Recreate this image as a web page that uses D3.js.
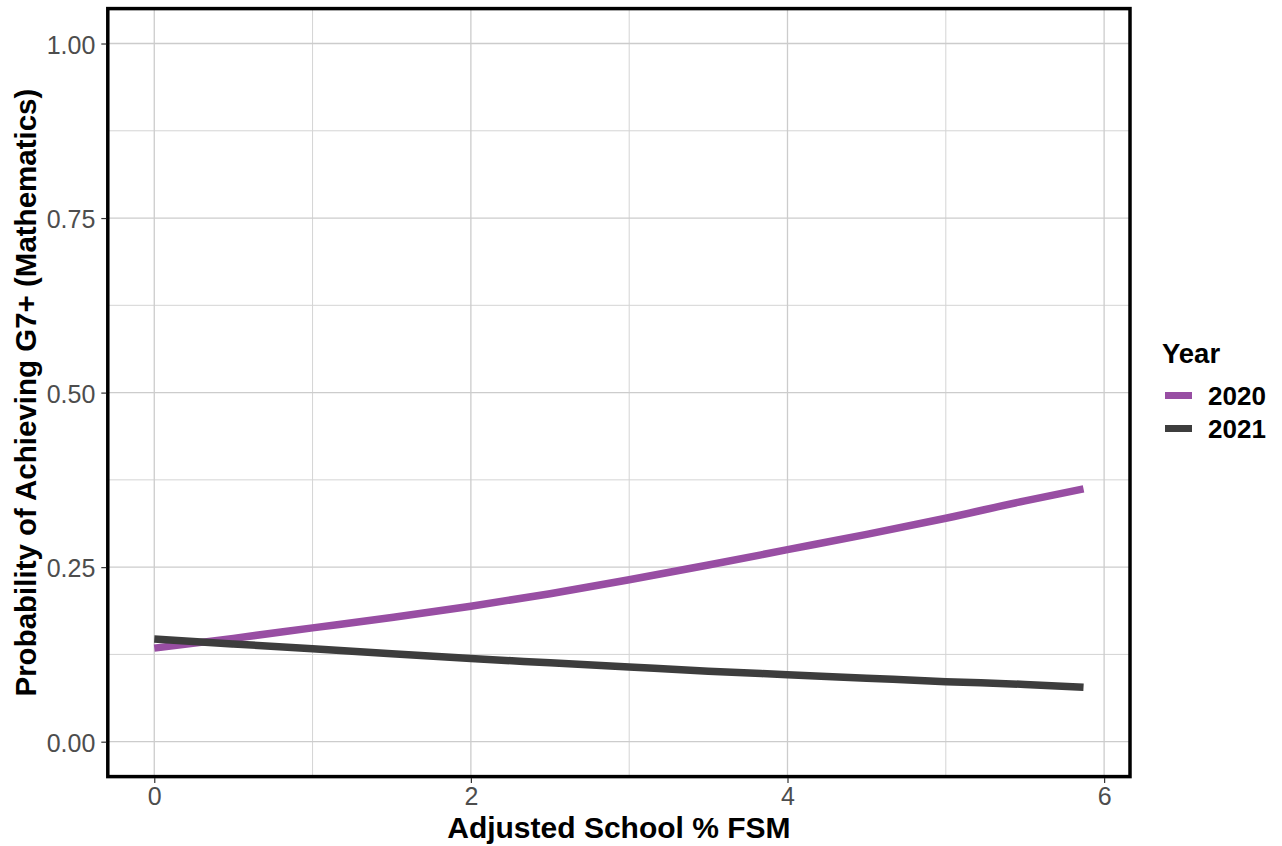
<!DOCTYPE html>
<html><head><meta charset="utf-8">
<script src="https://cdn.jsdelivr.net/npm/d3@7"></script>
<style>body{margin:0;background:#fff}svg{display:block}text{font-family:"Liberation Sans",Arial,sans-serif}</style>
</head><body>
<svg id="c" width="1282" height="846"></svg>
<script>
const fsm = [0, 0.5, 1, 1.5, 2, 2.5, 3, 3.5, 4, 4.5, 5, 5.5, 5.87];
const prob2020 = [0.134, 0.148, 0.163, 0.178, 0.194, 0.212, 0.232, 0.253, 0.275, 0.297, 0.320, 0.345, 0.362];
const prob2021 = [0.147, 0.140, 0.133, 0.126, 0.119, 0.113, 0.107, 0.101, 0.096, 0.091, 0.086, 0.082, 0.078];
const years = ["2020", "2021"];
const colors = ["#984EA3", "#3d3d3d"];
const xTicks = [0, 2, 4, 6];
const xMinor = [1, 3, 5];
const yTicks = [0, 0.25, 0.5, 0.75, 1];
const yMinor = [0.125, 0.375, 0.625, 0.875];

const svg = d3.select("#c");
const L = 107.8, R = 1130, T = 8.6, B = 776.6;
const x = d3.scaleLinear().domain([-0.2935, 6.1635]).range([L, R]);
const y = d3.scaleLinear().domain([-0.05, 1.05]).range([B, T]);

const grid = svg.append("g");
grid.selectAll(".vm").data(xMinor).join("line").attr("x1", d=>x(d)).attr("x2", d=>x(d)).attr("y1", T).attr("y2", B).attr("stroke", "#d4d4d4").attr("stroke-width", 1);
grid.selectAll(".hm").data(yMinor).join("line").attr("y1", d=>y(d)).attr("y2", d=>y(d)).attr("x1", L).attr("x2", R).attr("stroke", "#d4d4d4").attr("stroke-width", 1);
grid.selectAll(".v").data(xTicks).join("line").attr("x1", d=>x(d)).attr("x2", d=>x(d)).attr("y1", T).attr("y2", B).attr("stroke", "#cccccc").attr("stroke-width", 1.3);
grid.selectAll(".h").data(yTicks).join("line").attr("y1", d=>y(d)).attr("y2", d=>y(d)).attr("x1", L).attr("x2", R).attr("stroke", "#cccccc").attr("stroke-width", 1.3);

const series = [prob2020, prob2021];
const line = d3.line().x(d=>x(d[0])).y(d=>y(d[1])).curve(d3.curveMonotoneX);
series.forEach((s, i) => {
  svg.append("path").datum(fsm.map((v, j) => [v, s[j]]))
    .attr("d", line).attr("fill", "none").attr("stroke", colors[i]).attr("stroke-width", 7.5).attr("stroke-linecap", "butt");
});

svg.append("rect").attr("x", L).attr("y", T).attr("width", R-L).attr("height", B-T).attr("fill", "none").attr("stroke", "#000").attr("stroke-width", 3.5);

// axes
const xAxis = d3.axisBottom(x).tickValues(xTicks).tickFormat(d3.format("d")).tickSize(5).tickPadding(4);
const gx = svg.append("g").attr("transform", `translate(0,${B+1.5})`).call(xAxis);
gx.select(".domain").remove();
gx.selectAll("line").attr("stroke", "#333").attr("stroke-width", 1.2);
gx.selectAll("text").attr("fill", "#4d4d4d").style("font-size", "25px").attr("dy", "0.71em");

const yAxis = d3.axisLeft(y).tickValues(yTicks).tickFormat(d3.format(".2f")).tickSize(5).tickPadding(6);
const gy = svg.append("g").attr("transform", `translate(${L-1.5},0)`).call(yAxis);
gy.select(".domain").remove();
gy.selectAll("line").attr("stroke", "#333").attr("stroke-width", 1.2);
gy.selectAll("text").attr("fill", "#4d4d4d").style("font-size", "25px").attr("dy", "0.38em");

svg.append("text").attr("x", (L+R)/2).attr("y", 838).attr("text-anchor", "middle")
  .style("font-size", "30px").style("font-weight", "bold").attr("fill", "#000").text("Adjusted School % FSM");
svg.append("text").attr("transform", `translate(36,${(T+B)/2}) rotate(-90)`).attr("text-anchor", "middle")
  .style("font-size", "29.5px").style("font-weight", "bold").attr("fill", "#000").text("Probability of Achieving G7+ (Mathematics)");

// legend
const lg = svg.append("g");
lg.append("text").attr("x", 1162).attr("y", 363).style("font-size", "27.5px").style("font-weight", "bold").attr("fill", "#000").text("Year");
years.forEach((yr, i) => {
  const cy = 395.5 + i * 33;
  lg.append("line").attr("x1", 1165).attr("x2", 1192).attr("y1", cy).attr("y2", cy).attr("stroke", colors[i]).attr("stroke-width", 7);
  lg.append("text").attr("x", 1208).attr("y", cy + 9).style("font-size", "26px").style("font-weight", "bold").attr("fill", "#000").text(yr);
});
</script>
</body></html>
